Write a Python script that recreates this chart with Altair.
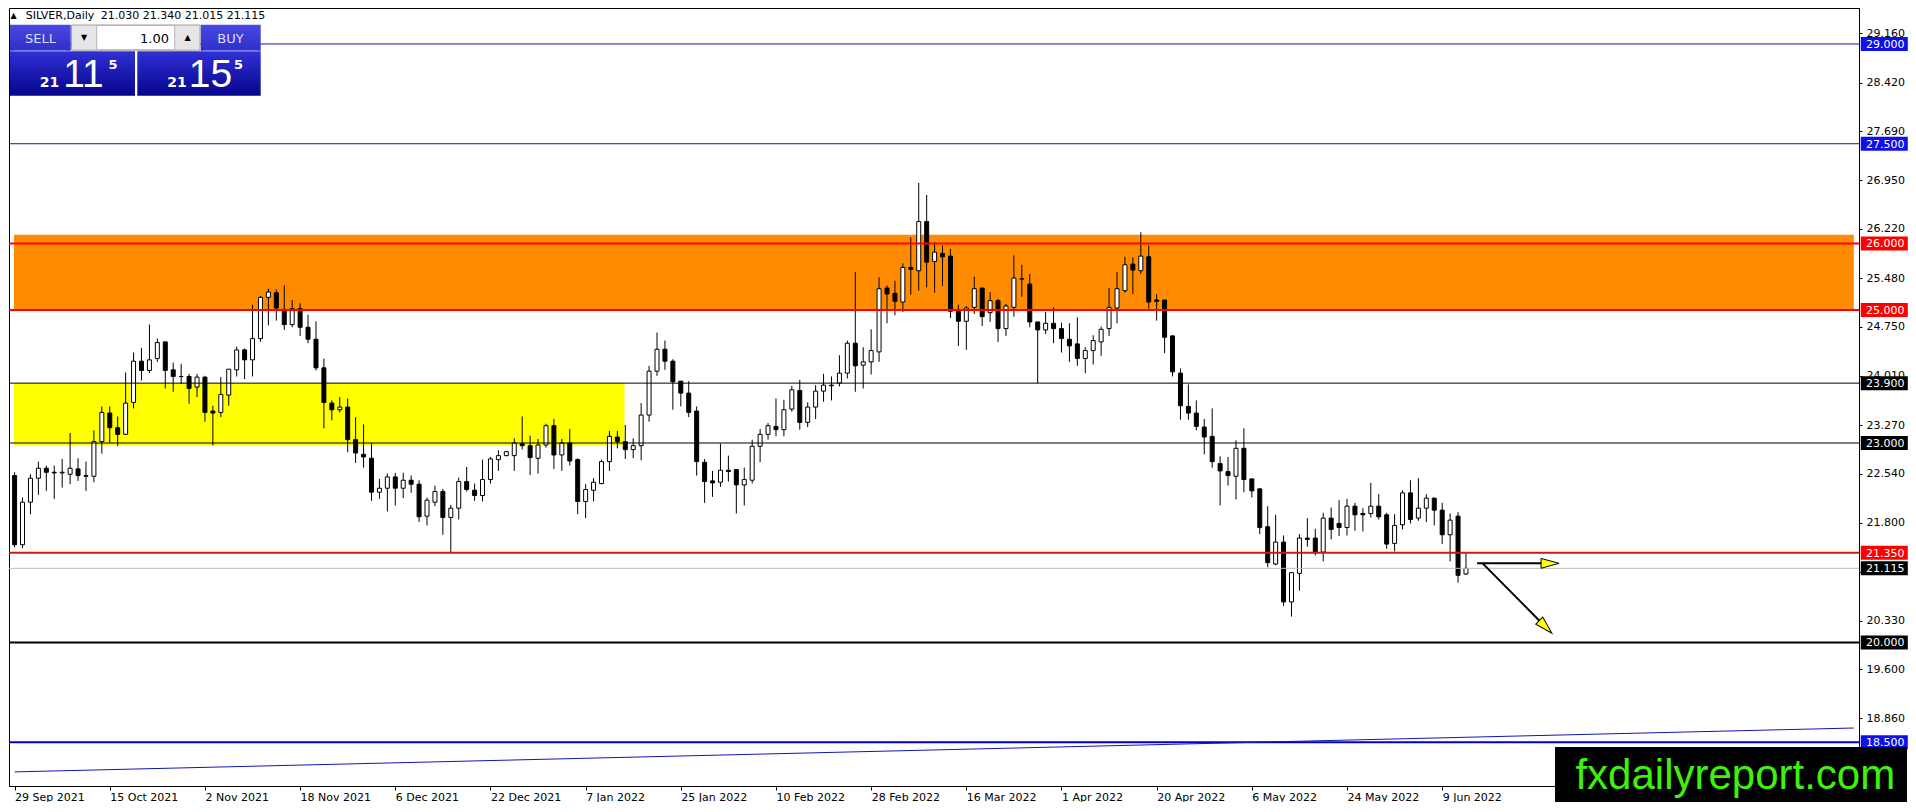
import json

import altair as alt
import pandas as pd

# daily candles, bar 0 = 29 Sep 2021 ... bar 183 = 14 Jun 2022
OPEN = [22.51, 21.47, 22.11, 22.47, 22.62, 22.56, 22.55, 22.53, 22.61, 22.51,
        22.50, 23.02, 23.45, 23.23, 23.13, 23.61, 24.23, 24.09, 24.27, 24.52,
        24.10, 24.00, 24.00, 23.84, 23.99, 23.48, 23.46, 23.72, 24.10, 24.40,
        24.25, 24.57, 25.19, 25.26, 25.01, 24.78, 25.02, 24.74, 24.56, 24.13,
        23.60, 23.50, 23.54, 23.05, 22.83, 22.77, 22.26, 22.32, 22.49, 22.32,
        22.44, 22.38, 21.90, 22.11, 22.27, 21.88, 22.02, 22.42, 22.29, 22.21,
        22.45, 22.75, 22.81, 22.81, 22.99, 22.96, 22.77, 22.97, 23.26, 22.82,
        23.00, 22.75, 22.12, 22.29, 22.39, 22.72, 23.09, 23.02, 22.90, 22.96,
        23.42, 24.08, 24.41, 24.23, 23.93, 23.75, 23.48, 22.71, 22.43, 22.41,
        22.59, 22.60, 22.37, 22.44, 22.95, 23.13, 23.25, 23.20, 23.51, 23.79,
        23.31, 23.54, 23.78, 23.86, 23.90, 24.05, 24.50, 24.17, 24.22, 24.37,
        25.33, 25.25, 25.12, 25.64, 25.59, 26.33, 25.73, 25.85, 25.81, 24.98,
        24.83, 25.04, 25.33, 24.96, 25.14, 24.72, 25.04, 25.47, 25.39, 24.82,
        24.70, 24.80, 24.72, 24.56, 24.49, 24.27, 24.39, 24.52, 24.72, 25.03,
        25.29, 25.69, 25.59, 25.80, 25.15, 25.15, 24.61, 24.05, 23.55, 23.45,
        23.24, 23.10, 22.69, 22.57, 22.50, 22.92, 22.46, 22.31, 21.74, 21.18,
        21.51, 20.61, 21.04, 21.57, 21.57, 21.36, 21.87, 21.79, 21.73, 22.05,
        21.94, 21.94, 22.05, 21.92, 21.49, 21.77, 22.25, 21.87, 22.02, 22.17,
        21.99, 21.62, 21.90, 21.03]
HIGH = [22.56, 22.18, 22.53, 22.72, 22.66, 22.66, 22.76, 23.15, 22.77, 22.72,
        23.19, 23.55, 23.55, 23.40, 24.06, 24.36, 24.43, 24.78, 24.57, 24.52,
        24.21, 24.19, 24.04, 24.04, 24.01, 23.56, 23.99, 24.11, 24.45, 24.42,
        25.08, 25.21, 25.32, 25.31, 25.37, 25.15, 25.10, 24.93, 24.83, 24.27,
        23.64, 23.69, 23.67, 23.39, 23.28, 23.00, 22.46, 22.54, 22.55, 22.55,
        22.51, 22.44, 22.18, 22.36, 22.31, 22.07, 22.48, 22.64, 22.39, 22.75,
        22.79, 22.89, 22.88, 23.07, 23.40, 23.11, 23.06, 23.29, 23.36, 23.06,
        23.21, 22.77, 22.38, 22.47, 22.75, 23.18, 23.18, 23.27, 23.07, 23.60,
        24.16, 24.66, 24.54, 24.26, 23.93, 23.93, 23.55, 22.76, 22.58, 22.99,
        22.81, 22.60, 22.63, 23.05, 23.21, 23.30, 23.67, 23.65, 23.86, 23.95,
        23.61, 23.87, 24.04, 24.00, 24.32, 24.54, 25.57, 24.44, 24.71, 25.49,
        25.37, 25.44, 25.70, 26.09, 26.91, 26.73, 26.02, 25.97, 25.92, 25.08,
        25.06, 25.50, 25.33, 25.27, 25.17, 25.09, 25.82, 25.68, 25.54, 24.82,
        24.97, 25.04, 24.81, 24.80, 24.89, 24.44, 24.62, 24.75, 25.33, 25.57,
        25.80, 25.79, 26.17, 25.97, 25.24, 25.15, 24.62, 24.12, 23.88, 23.64,
        23.36, 23.52, 22.80, 22.79, 23.04, 23.22, 22.46, 22.32, 22.05, 21.92,
        21.61, 21.06, 21.63, 21.87, 21.71, 21.95, 22.03, 22.14, 22.16, 22.10,
        22.02, 22.40, 22.23, 21.95, 21.93, 22.29, 22.44, 22.47, 22.23, 22.18,
        22.10, 21.94, 21.96, 21.34]
LOW = [21.43, 21.42, 21.93, 22.22, 22.28, 22.16, 22.33, 22.38, 22.43, 22.28,
       22.41, 22.84, 23.00, 22.95, 23.12, 23.52, 23.94, 24.05, 24.22, 23.82,
       23.77, 23.89, 23.59, 23.69, 23.32, 22.96, 23.39, 23.56, 24.00, 23.96,
       24.00, 24.52, 24.77, 24.84, 24.70, 24.74, 24.61, 24.50, 24.09, 23.22,
       23.34, 23.46, 22.86, 22.70, 22.63, 22.13, 22.16, 21.97, 22.06, 22.17,
       22.25, 21.81, 21.76, 22.05, 21.62, 21.36, 21.85, 22.27, 22.13, 22.12,
       22.39, 22.58, 22.80, 22.58, 22.90, 22.52, 22.54, 22.93, 22.61, 22.58,
       22.66, 21.93, 21.87, 22.12, 22.38, 22.58, 22.92, 22.76, 22.77, 22.74,
       23.32, 24.01, 24.10, 23.50, 23.55, 23.39, 22.51, 22.10, 22.19, 22.34,
       22.42, 21.94, 22.06, 22.39, 22.71, 23.05, 23.10, 23.10, 23.47, 23.20,
       23.24, 23.36, 23.62, 23.64, 23.85, 23.97, 23.77, 23.82, 24.03, 24.22,
       24.80, 24.92, 24.97, 25.23, 25.29, 25.34, 25.26, 25.36, 24.88, 24.46,
       24.40, 24.94, 24.76, 24.82, 24.52, 24.61, 24.90, 25.20, 24.74, 23.90,
       24.64, 24.50, 24.36, 24.22, 24.16, 24.05, 24.18, 24.31, 24.61, 24.80,
       25.26, 25.24, 25.54, 25.02, 24.84, 24.35, 24.00, 23.35, 23.35, 23.19,
       22.83, 22.63, 22.06, 22.36, 22.15, 22.26, 22.18, 21.63, 21.13, 21.16,
       20.55, 20.39, 20.78, 21.44, 21.31, 21.22, 21.55, 21.60, 21.61, 21.68,
       21.67, 21.88, 21.85, 21.41, 21.37, 21.70, 21.79, 21.83, 21.81, 21.76,
       21.48, 21.22, 20.90, 21.015]
CLOSE = [21.47, 22.11, 22.47, 22.62, 22.56, 22.55, 22.56, 22.62, 22.51, 22.50,
         23.02, 23.46, 23.23, 23.13, 23.60, 24.23, 24.09, 24.25, 24.51, 24.09,
         24.00, 24.00, 23.82, 23.99, 23.46, 23.45, 23.73, 24.11, 24.40, 24.25,
         24.57, 25.19, 25.27, 25.03, 24.78, 25.02, 24.74, 24.56, 24.13, 23.61,
         23.50, 23.54, 23.05, 22.85, 22.79, 22.26, 22.32, 22.49, 22.32, 22.44,
         22.38, 21.89, 22.14, 22.27, 21.88, 22.02, 22.42, 22.30, 22.21, 22.45,
         22.76, 22.81, 22.87, 23.00, 22.96, 22.78, 22.97, 23.26, 22.82, 23.00,
         22.73, 22.12, 22.30, 22.41, 22.72, 23.10, 23.02, 22.90, 22.96, 23.42,
         24.08, 24.41, 24.23, 23.92, 23.75, 23.46, 22.72, 22.42, 22.40, 22.59,
         22.57, 22.37, 22.45, 22.95, 23.13, 23.26, 23.20, 23.50, 23.80, 23.31,
         23.54, 23.78, 23.87, 23.87, 24.05, 24.50, 24.16, 24.22, 24.39, 25.32,
         25.24, 25.13, 25.64, 25.61, 26.33, 25.72, 25.87, 25.80, 24.98, 24.83,
         25.03, 25.32, 24.90, 25.14, 24.72, 25.06, 25.48, 25.465, 24.82, 24.70,
         24.80, 24.72, 24.57, 24.46, 24.27, 24.39, 24.54, 24.71, 25.04, 25.32,
         25.68, 25.60, 25.81, 25.12, 25.13, 24.59, 24.07, 23.56, 23.45, 23.25,
         23.09, 22.72, 22.58, 22.51, 22.92, 22.45, 22.28, 21.73, 21.20, 21.51,
         20.61, 21.05, 21.57, 21.55, 21.35, 21.87, 21.70, 21.73, 22.05, 21.92,
         21.92, 22.05, 21.89, 21.48, 21.76, 22.25, 21.85, 22.02, 22.17, 21.99,
         21.62, 21.84, 21.01, 21.115]

DATE_LABELS = ["29 Sep 2021", "15 Oct 2021", "2 Nov 2021", "18 Nov 2021",
               "6 Dec 2021", "22 Dec 2021", "7 Jan 2022", "25 Jan 2022",
               "10 Feb 2022", "28 Feb 2022", "16 Mar 2022", "1 Apr 2022",
               "20 Apr 2022", "6 May 2022", "24 May 2022", "9 Jun 2022"]
PRICE_TICKS = [29.16, 28.42, 27.69, 26.95, 26.22, 25.48, 24.75, 24.01, 23.27,
               22.54, 21.80, 21.06, 20.33, 19.60, 18.86]

# horizontal levels drawn on the chart
LEVELS = [29.0, 27.5, 26.0, 25.0, 23.9, 23.0, 21.35, 21.115, 20.0, 18.5]
LEVEL_LINE = ["#1414b4", "#1414b4", "#ff0000", "#ff0000", "#000000", "#000000",
              "#d01818", "#c0c0c0", "#000000", "#0000c8"]
LEVEL_WIDTH = [1, 1, 2, 2, 1, 1, 2, 1, 2, 2]
LEVEL_BOX = ["#1010e8", "#1010e8", "#ff0000", "#ff0000", "#000000", "#000000",
             "#ff0000", "#000000", "#000000", "#1010e8"]

# shaded zones: orange resistance, yellow support box
ZONE_LOW = [25.0, 22.97]
ZONE_HIGH = [26.13, 23.9]
ZONE_END_BAR = [231.9, 76.9]
ZONE_COLOR = ["#ff8c00", "#ffff00"]

# blue trend line
TREND_BAR = [0.0, 231.9]
TREND_PRICE = [18.054, 18.714]

# arrows from the last bar
ARROW_BAR0 = [184.4, 185.1]
ARROW_PRICE0 = [21.19, 21.19]
ARROW_BAR1 = [193.6, 193.04]
ARROW_PRICE1 = [21.19, 20.234]
ARROW_ANGLE = [90, 135]

W, H = 1850, 778
X_MIN, X_MAX = -0.075, 231.925
Y_MIN, Y_MAX = 17.842, 29.541
FONT = "DejaVu Sans"
OX, OY = 5.0, 9.0  # panel offsets in screenshot pixels

xs = alt.Scale(domain=[X_MIN, X_MAX], nice=False, zero=False)
ys = alt.Scale(domain=[Y_MIN, Y_MAX], nice=False, zero=False)

X_AXIS = alt.Axis(
    values=list(range(0, 181, 12)),
    labelExpr=json.dumps(DATE_LABELS) + "[round(datum.value / 12)]",
    title=None, labelAlign="left", labelFont=FONT, labelFontSize=11,
    labelColor="black", tickSize=4, tickColor="black", domainColor="black",
    labelPadding=1, labelOverlap=False, labelFlush=False, grid=False)
Y_AXIS = alt.Axis(
    values=PRICE_TICKS, format=".3f", orient="right", title=None,
    labelFont=FONT, labelFontSize=11, labelColor="black", tickSize=3,
    tickColor="black", domainColor="black", labelPadding=4,
    labelOverlap=False, grid=False)


def X(field):
    return alt.X(field, scale=xs, axis=X_AXIS)


def Y(field):
    return alt.Y(field, scale=ys, axis=Y_AXIS)


candles = pd.DataFrame({"bar": range(len(OPEN)), "open": OPEN, "high": HIGH,
                        "low": LOW, "close": CLOSE})
candles["top"] = candles[["open", "close"]].max(axis=1)
candles["bottom"] = candles[["open", "close"]].min(axis=1)
candles["fill"] = ["white" if c >= o else "black" for o, c in zip(OPEN, CLOSE)]

levels = pd.DataFrame({"price": LEVELS, "line": LEVEL_LINE, "w": LEVEL_WIDTH,
                       "box": LEVEL_BOX,
                       "label": [f"{v:.3f}" for v in LEVELS]})
zones = pd.DataFrame({"x0": [X_MIN] * 2, "x1": ZONE_END_BAR, "lo": ZONE_LOW,
                      "hi": ZONE_HIGH, "c": ZONE_COLOR})
trend = pd.DataFrame({"bar": TREND_BAR, "price": TREND_PRICE})
arrows = pd.DataFrame({"b0": ARROW_BAR0, "p0": ARROW_PRICE0, "b1": ARROW_BAR1,
                       "p1": ARROW_PRICE1, "angle": ARROW_ANGLE})
one = pd.DataFrame({"k": [0]})

zone_layer = alt.Chart(zones).mark_rect().encode(
    x=X("x0:Q"), x2="x1:Q", y=Y("lo:Q"), y2="hi:Q",
    fill=alt.Fill("c:N", scale=None),
)

wicks = alt.Chart(candles).mark_rule(color="black", strokeWidth=1, clip=True).encode(
    x=X("bar:Q"), y=Y("low:Q"), y2="high:Q",
)

bodies = alt.Chart(candles).mark_bar(
    size=4, stroke="black", strokeWidth=1, clip=True,
).encode(
    x=X("bar:Q"), y=Y("bottom:Q"), y2="top:Q",
    fill=alt.Fill("fill:N", scale=None),
)

level_lines = alt.Chart(levels).mark_rule().encode(
    y=Y("price:Q"),
    color=alt.Color("line:N", scale=None),
    strokeWidth=alt.StrokeWidth("w:Q", scale=None),
)

trend_line = alt.Chart(trend).mark_line(color="#1414b4", strokeWidth=1).encode(
    x=X("bar:Q"), y=Y("price:Q"),
)

arrow_lines = alt.Chart(arrows).mark_rule(color="black", strokeWidth=2).encode(
    x=X("b0:Q"), x2="b1:Q", y=Y("p0:Q"), y2="p1:Q",
)

arrow_heads = alt.Chart(arrows).mark_point(
    shape="M0,-1L0.55,1L-0.55,1Z", size=324, filled=True, fill="#ffff00",
    stroke="black", strokeWidth=1, opacity=1,
).encode(
    x=X("b1:Q"), y=Y("p1:Q"),
    angle=alt.Angle("angle:Q", scale=None),
)

level_boxes = alt.Chart(levels).mark_point(
    shape="M-1,-0.298H1V0.298H-1Z", size=2209, filled=True, opacity=1,
).encode(
    x=alt.value(W + 25.3),
    y=Y("price:Q"),
    fill=alt.Fill("box:N", scale=None),
)

level_text = alt.Chart(levels).mark_text(
    align="left", baseline="middle", font=FONT, fontSize=11, color="white", dy=1,
).encode(
    x=alt.value(W + 7),
    y=Y("price:Q"),
    text="label:N",
)


def box(x0, x1, y0, y1, **style):
    return alt.Chart(one).mark_rect(**style).encode(
        x=alt.value(x0 - OX), x2=alt.value(x1 - OX),
        y=alt.value(y0 - OY), y2=alt.value(y1 - OY))


def label(text, x, y, size=11, align="left", weight="normal", color="black",
          font=FONT, baseline="alphabetic"):
    return alt.Chart(one).mark_text(
        text=text, align=align, baseline=baseline, fontSize=size,
        fontWeight=weight, color=color, font=font,
    ).encode(x=alt.value(x - OX), y=alt.value(y - OY))


def grad(c0, c1):
    return alt.LinearGradient(
        gradient="linear", x1=0, x2=0, y1=0, y2=1,
        stops=[alt.GradientStop(color=c0, offset=0),
               alt.GradientStop(color=c1, offset=1)])


panel = [
    box(6, 66.7, 25.7, 51.7, fill=grad("#4a4ae2", "#2e2ec8")),
    box(196.7, 256.7, 25.7, 51.7, fill=grad("#4a4ae2", "#2e2ec8")),
    box(67.5, 196, 26, 51.2, fill="#e6e6e6", stroke="#a0a0a0", strokeWidth=1),
    box(92.7, 170.7, 26.5, 50.7, fill="white", stroke="#b4b4b4", strokeWidth=1),
    box(6, 131, 52.3, 96.7, fill=grad("#3030d6", "#06068c")),
    box(133.3, 256.7, 52.3, 96.7, fill=grad("#3030d6", "#06068c")),
    box(10, 62, 51.2, 52, fill="#8c8cf0"),
    box(200, 253, 51.2, 52, fill="#8c8cf0"),
    label("SELL", 36.5, 44, size=13, align="center", color="#dcdcff"),
    label("BUY", 226.5, 44, size=13, align="center", color="#dcdcff"),
    label("1.00", 165, 44, size=13, align="right"),
    label("\u25bc", 80, 41, size=8, align="center"),
    label("\u25b2", 183.5, 41, size=8, align="center"),
    label("21", 45.5, 88, size=14, align="center", weight="bold", color="white"),
    label("11", 79.5, 88, size=39, align="center", color="white",
          font="Liberation Sans"),
    label("5", 109, 70, size=13, align="center", weight="bold", color="white"),
    label("21", 173, 88, size=14, align="center", weight="bold", color="white"),
    label("15", 206.5, 88, size=39, align="center", color="white",
          font="Liberation Sans"),
    label("5", 234.5, 70, size=13, align="center", weight="bold", color="white"),
    label("\u25b2", 9.5, 18.5, size=8, align="center"),
    label("SILVER,Daily", 21.7, 19.5),
    label("21.030 21.340 21.015 21.115", 96.7, 19.5),
]

logo = [
    box(1551, 1903, 748, 803, fill="black"),
    label("fxdailyreport.com", 1731.3, 790, size=42, align="center",
          color="#3ef20c", font="Liberation Sans"),
]

chart = alt.layer(
    zone_layer, wicks, bodies, level_lines, trend_line, arrow_lines,
    arrow_heads, *panel, level_boxes, level_text, *logo,
).properties(
    width=W, height=H, background="white",
    padding={"left": 0, "top": 0, "right": 0, "bottom": 0},
).configure_view(
    stroke="black", strokeWidth=1, fill="white",
)

chart.save("out.html", embed_options={"renderer": "svg", "actions": False})
